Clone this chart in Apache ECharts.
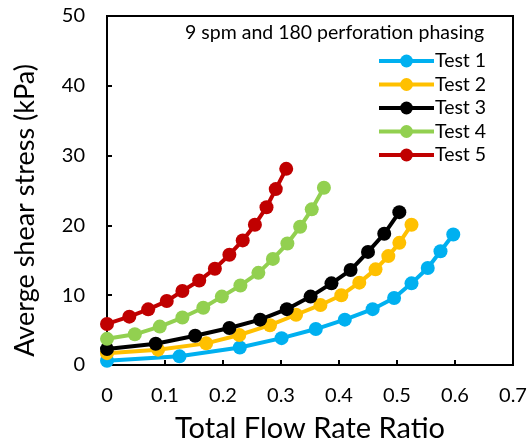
<!DOCTYPE html>
<html>
<head>
<meta charset="utf-8">
<script src="https://cdn.jsdelivr.net/npm/echarts@6/dist/echarts.min.js"></script>
<style>
  html, body { margin: 0; padding: 0; background: #fff; }
  #chart { width: 530px; height: 448px; }
</style>
</head>
<body>
<div id="chart"></div>
<script>
// Flow rate ratio vs. average shear stress, five tests
const test1X = [0, 0.125, 0.229, 0.301, 0.360, 0.410, 0.458, 0.495, 0.525, 0.553, 0.575, 0.597];
const test1Y = [0.6, 1.24, 2.5, 3.85, 5.15, 6.5, 8.0, 9.6, 11.7, 13.9, 16.3, 18.7];

const test2X = [0, 0.088, 0.171, 0.228, 0.281, 0.326, 0.368, 0.404, 0.435, 0.463, 0.485, 0.504, 0.525];
const test2Y = [1.7, 2.2, 3.1, 4.3, 5.7, 7.2, 8.6, 10.0, 11.8, 13.7, 15.6, 17.5, 20.1];

const test3X = [0, 0.084, 0.152, 0.211, 0.264, 0.310, 0.351, 0.387, 0.420, 0.450, 0.478, 0.504];
const test3Y = [2.28, 3.04, 4.2, 5.3, 6.5, 8.0, 9.8, 11.7, 13.6, 16.2, 18.8, 21.9];

const test4X = [0, 0.048, 0.091, 0.130, 0.166, 0.198, 0.230, 0.261, 0.286, 0.311, 0.333, 0.353, 0.374];
const test4Y = [3.75, 4.4, 5.5, 6.8, 8.2, 9.8, 11.4, 13.2, 15.2, 17.4, 19.8, 22.3, 25.4];

const test5X = [0, 0.0385, 0.071, 0.103, 0.130, 0.159, 0.186, 0.211, 0.234, 0.255, 0.275, 0.291, 0.309];
const test5Y = [5.88, 6.93, 7.97, 9.16, 10.6, 12.1, 13.8, 15.8, 17.85, 20.1, 22.6, 25.2, 28.1];

const seriesNames = ['Test 1', 'Test 2', 'Test 3', 'Test 4', 'Test 5'];
const seriesColors = ['#00B0F0', '#FFC000', '#000000', '#92D050', '#C00000'];
const seriesX = [test1X, test2X, test3X, test4X, test5X];
const seriesY = [test1Y, test2Y, test3Y, test4Y, test5Y];

const xTitle = 'Total Flow Rate Ratio';
const yTitle = 'Averge shear stress (kPa)';
const noteText = '9 spm and 180 perforation phasing';

const FONT = 'Lato';

const chart = echarts.init(document.getElementById('chart'));

const series = seriesNames.map((name, i) => ({
  name: name,
  type: 'line',
  data: seriesX[i].map((x, j) => [x, seriesY[i][j]]),
  symbol: 'circle',
  symbolSize: 14,
  showSymbol: true,
  lineStyle: { width: 4, color: seriesColors[i] },
  itemStyle: { color: seriesColors[i] },
  emphasis: { disabled: true },
  animation: false
}));

chart.setOption({
  animation: false,
  backgroundColor: '#fff',
  title: {
    text: noteText,
    left: 185,
    top: 23,
    padding: 0,
    textStyle: { fontFamily: FONT, fontSize: 19.5, fontWeight: 'normal', color: '#000' }
  },
  legend: {
    data: seriesNames,
    orient: 'vertical',
    left: 377,
    top: 51,
    padding: 0,
    itemWidth: 55,
    itemHeight: 16,
    itemGap: 3.5,
    lineStyle: { width: 4 },
    textStyle: { fontFamily: FONT, fontSize: 19.5, color: '#000', padding: [0, 0, 0, -4] }
  },
  grid: {
    left: 107, right: 17, top: 16, bottom: 81,
    show: true, borderColor: '#000', borderWidth: 2, backgroundColor: 'transparent'
  },
  xAxis: {
    type: 'value',
    min: 0, max: 0.7, interval: 0.1,
    name: xTitle,
    nameLocation: 'middle',
    nameGap: 49,
    nameTextStyle: { fontFamily: FONT, fontSize: 29, color: '#000' },
    axisLine: { show: true, lineStyle: { color: '#000', width: 2 } },
    axisTick: { show: true, inside: true, length: 5, lineStyle: { color: '#000', width: 2 } },
    axisLabel: {
      fontFamily: FONT, fontSize: 20, color: '#000', margin: 21,
      formatter: v => String(+v.toFixed(1))
    },
    splitLine: { show: false }
  },
  yAxis: {
    type: 'value',
    min: 0, max: 50, interval: 10,
    name: yTitle,
    nameLocation: 'middle',
    nameGap: 68,
    nameTextStyle: { fontFamily: FONT, fontSize: 27, color: '#000', padding: [0, 40, 0, 0] },
    axisLine: { show: true, lineStyle: { color: '#000', width: 2 } },
    axisTick: { show: true, inside: true, length: 5, lineStyle: { color: '#000', width: 2 } },
    axisLabel: { fontFamily: FONT, fontSize: 20, color: '#000', margin: 22 },
    splitLine: { show: false }
  },
  series: series
});
</script>
</body>
</html>
